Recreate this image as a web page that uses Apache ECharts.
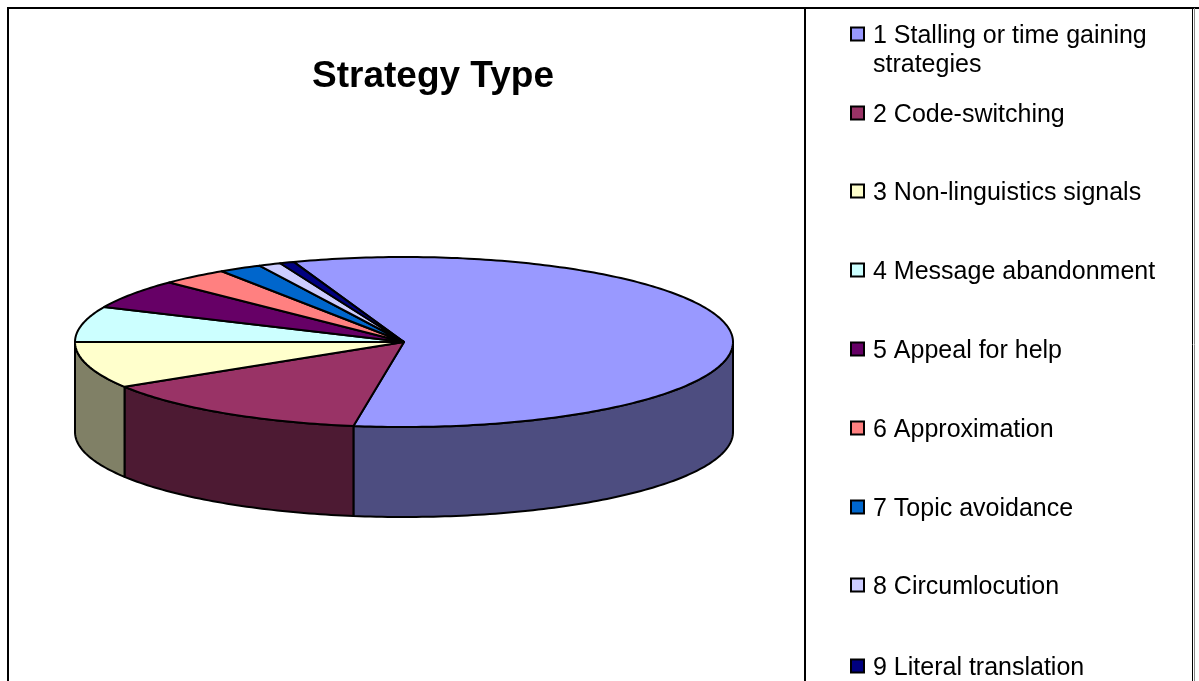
<!DOCTYPE html>
<html>
<head>
<meta charset="utf-8">
<style>
  html, body { margin: 0; padding: 0; background: #fff; }
  #chart { width: 1199px; height: 681px; }
</style>
<script src="https://cdn.jsdelivr.net/npm/echarts@6/dist/echarts.min.js"></script>
</head>
<body>
<div id="chart"></div>
<script>
  var categories = [
    '1 Stalling or time gaining',
    '2 Code-switching',
    '3 Non-linguistics signals',
    '4 Message abandonment',
    '5 Appeal for help',
    '6 Approximation',
    '7 Topic avoidance',
    '8 Circumlocution',
    '9 Literal translation'
  ]
  var values = [57.9, 13.7, 8.9, 6.7, 5.6, 3.3, 2.1, 1.1, 0.7]
  var topColors = ['#9999ff', '#993366', '#ffffcc', '#ccffff', '#660066', '#ff8080', '#0066cc', '#ccccff', '#000080']
  var sideColors = ['#4d4d80', '#4d1a33', '#808066', '#668080', '#330033', '#804040', '#003366', '#666680', '#000040']

  // pie geometry
  var cx = 404
  var cy = 342
  var rx = 329
  var ry = 85
  var depth = 90
  var startAngle = 340.4 // degrees clockwise from the top

  var legendTops = [34, 113, 191, 270, 349, 428, 507, 585, 666]

  function rim(deg, drop) {
    var a = deg * Math.PI / 180
    return [cx + rx * Math.sin(a), cy - ry * Math.cos(a) + (drop || 0)]
  }

  function arc(from, to, drop) {
    var pts = []
    var steps = Math.max(2, Math.ceil(Math.abs(to - from)))
    for (var i = 0; i <= steps; i++) {
      pts.push(rim(from + (to - from) * i / steps, drop))
    }
    return pts
  }

  function renderSlice(params, api) {
    var from = api.value(0)
    var to = api.value(1)
    var idx = params.seriesIndex
    var children = []
    var edge = { stroke: '#000', lineWidth: 2, lineJoin: 'round' }
    // only the front half of the rim has a visible wall
    ;[0, 360].forEach(function (k) {
      var a = Math.max(from, 90 + k)
      var b = Math.min(to, 270 + k)
      if (a < b) {
        var pts = arc(a, b, 0).concat(arc(b, a, depth))
        children.push({
          type: 'polygon',
          shape: { points: pts },
          style: Object.assign({ fill: sideColors[idx] }, edge)
        })
      }
    })
    children.push({
      type: 'polygon',
      shape: { points: [[cx, cy]].concat(arc(from, to, 0)) },
      style: Object.assign({ fill: topColors[idx] }, edge)
    })
    return { type: 'group', children: children }
  }

  var total = values.reduce(function (s, v) { return s + v }, 0)
  var running = startAngle
  var series = categories.map(function (name, i) {
    var span = values[i] / total * 360
    var item = [running, running + span]
    running += span
    return {
      name: name,
      type: 'custom',
      coordinateSystem: 'none',
      silent: true,
      animation: false,
      renderItem: renderSlice,
      data: [item]
    }
  })

  var legends = categories.map(function (name, i) {
    return {
      left: 850,
      top: legendTops[i] - 10,
      orient: 'vertical',
      selectedMode: false,
      itemWidth: 13,
      itemHeight: 13,
      padding: 0,
      data: [{
        name: name,
        icon: 'rect',
        itemStyle: { color: topColors[i], borderColor: '#000', borderWidth: 2 }
      }],
      formatter: '{t|{name}}',
      textStyle: {
        rich: {
          t: {
            fontFamily: '"Liberation Sans", Arial, sans-serif',
            fontSize: 25,
            color: '#000',
            padding: [5, 0, 0, 4]
          }
        }
      }
    }
  })

  function frameLine(x1, y1, x2, y2, width, color) {
    return {
      type: 'line',
      shape: { x1: x1, y1: y1, x2: x2, y2: y2 },
      style: { stroke: color || '#000', lineWidth: width || 2 }
    }
  }

  var chart = echarts.init(document.getElementById('chart'), null, { renderer: 'canvas' })
  chart.setOption({
    animation: false,
    backgroundColor: '#fff',
    title: {
      text: 'Strategy Type',
      left: 428,
      top: 53,
      textAlign: 'center',
      textStyle: {
        fontFamily: '"Liberation Sans", Arial, sans-serif',
        fontSize: 37,
        fontWeight: 'bold',
        color: '#000'
      }
    },
    legend: legends,
    graphic: [
      frameLine(7, 8, 1199, 8),
      frameLine(8, 8, 8, 681),
      frameLine(805, 8, 805, 681),
      frameLine(1192.5, 8, 1192.5, 681, 1),
      frameLine(1194.5, 8, 1194.5, 681, 1, '#888'),
      {
        type: 'text',
        left: 873,
        top: 53,
        style: {
          text: 'strategies',
          font: '25px "Liberation Sans", Arial, sans-serif',
          fill: '#000'
        }
      }
    ],
    series: series
  })
</script>
</body>
</html>
